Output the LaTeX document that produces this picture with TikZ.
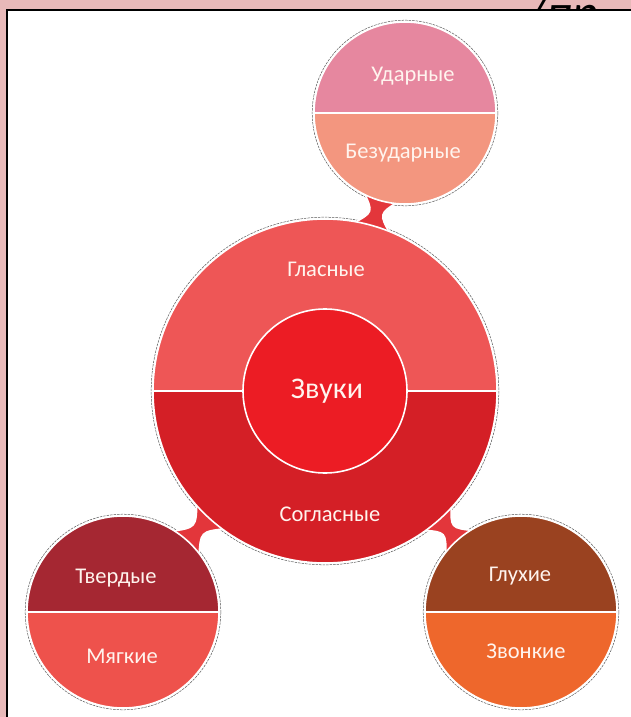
\documentclass[tikz,border=0pt]{standalone}
\usepackage{fontspec}
\setmainfont{Carlito}
\usetikzlibrary{calc}
\definecolor{framepink}{HTML}{E8B9B9}
\definecolor{udarcol}{HTML}{E6879F}
\definecolor{bezudarcol}{HTML}{F3967F}
\definecolor{glascol}{HTML}{EE5656}
\definecolor{soglcol}{HTML}{D41F26}
\definecolor{zvukicol}{HTML}{EC1C24}
\definecolor{tverdcol}{HTML}{A52732}
\definecolor{myagcol}{HTML}{EE524C}
\definecolor{gluhcol}{HTML}{9A4220}
\definecolor{zvoncol}{HTML}{EE672C}
\definecolor{neckcol}{HTML}{E3363B}
\definecolor{tagcol}{HTML}{FFF4EE}
\tikzset{
  rim/.style={draw=white, line width=1.6pt},
  halo/.style={draw=black!65, line width=0.5pt, dash pattern=on 2.5pt off 1pt},
  tag/.style={text=tagcol, inner sep=0pt, text height=1.4ex, text depth=0pt,
    font=\fontsize{22.5}{26}\selectfont},
}
% two-colour disc: name, centre, radius, upper colour, lower colour
\newcommand{\bubble}[5]{%
  \coordinate (#1) at #2;
  \fill[#4] ($(#1)+(-#3,0)$) arc (180:360:#3) -- cycle;
  \fill[#5] ($(#1)+(-#3,0)$) arc (180:0:#3) -- cycle;
  \draw[rim] (#1) circle (#3);
  \draw[rim] ($(#1)+(-#3,0)$) -- ($(#1)+(#3,0)$);
}

\begin{document}
\begin{tikzpicture}[x=1pt,y=-1pt]
  \useasboundingbox (0,0) rectangle (631,717);

  % page frame
  \fill[framepink] (0,0) rectangle (631,717);
  \begin{scope}
    \clip (0,0) rectangle (631,10);
    \node[anchor=base west, inner sep=0pt, font=\fontsize{50}{50}\selectfont\itshape] (t-corner) at (527,30) {/пр};
  \end{scope}
  \fill[white] (7,10) rectangle (631,717);
  \draw[black, line width=2pt] (7,717) -- (7,10) -- (631,10);

  % centres
  \coordinate (zvuki) at (325,391);
  \coordinate (udar) at (405,113);
  \coordinate (tverd) at (123,612);
  \coordinate (gluh) at (521,612);

  % dashed halos
  \draw[halo] (zvuki) circle (173.8);
  \draw[halo] (udar) circle (92.8);
  \draw[halo] (tverd) circle (97.8);
  \draw[halo] (gluh) circle (97.8);

  % necks between the main disc and the small ones
  \foreach \far/\rad/\gapat in {udar/91/0.64, tverd/96/0.627, gluh/96/0.629}{
    \coordinate (g) at ($(zvuki)!\gapat!(\far)$);
    \coordinate (a1) at ($(zvuki)!170pt!6.5:(\far)$);
    \coordinate (a2) at ($(zvuki)!170pt!-6.5:(\far)$);
    \coordinate (b1) at ($(\far)!{(\rad-2)*1pt}!11.5:(zvuki)$);
    \coordinate (b2) at ($(\far)!{(\rad-2)*1pt}!-11.5:(zvuki)$);
    \coordinate (c1) at ($(g)!3pt!90:(\far)$);
    \coordinate (c2) at ($(g)!3pt!-90:(\far)$);
    \fill[neckcol] (a1) .. controls (c1) .. (b2) -- (b1) .. controls (c2) .. (a2) -- cycle;
    \draw[rim] (a1) .. controls (c1) .. (b2) (b1) .. controls (c2) .. (a2);
  }

  % discs
  \bubble{zvuki}{(325,391)}{172}{glascol}{soglcol}
  \bubble{udar}{(405,113)}{91}{udarcol}{bezudarcol}
  \bubble{tverd}{(123,612)}{96}{tverdcol}{myagcol}
  \bubble{gluh}{(521,612)}{96}{gluhcol}{zvoncol}
  \fill[zvukicol] (zvuki) circle (82);
  \draw[rim] (zvuki) circle (82);

  % labels
  \node[tag, font=\fontsize{30}{36}\selectfont] (t-zvuki) at (327,395) {Звуки};
  \node[tag] (t-glas) at (326,273) {Гласные};
  \node[tag] (t-sogl) at (330,518) {Согласные};
  \node[tag] (t-udar) at (413,78) {Ударные};
  \node[tag] (t-bezudar) at (403,155) {Безударные};
  \node[tag] (t-tverd) at (116,580) {Твердые};
  \node[tag] (t-myag) at (122,660) {Мягкие};
  \node[tag] (t-gluh) at (520,578) {Глухие};
  \node[tag] (t-zvon) at (526,655) {Звонкие};
\end{tikzpicture}
\end{document}
